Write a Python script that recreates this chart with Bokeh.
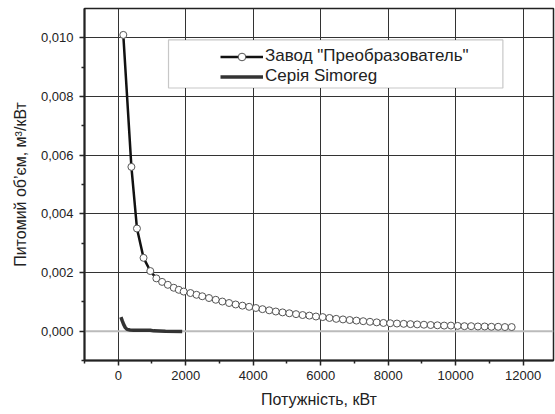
from bokeh.plotting import figure
from bokeh.models import (Range1d, FixedTicker, CustomJSTickFormatter, Legend,
                          LegendItem, Span, BoxAnnotation)
from bokeh.embed import file_html
from bokeh.resources import INLINE

# ---- data ----
x_plant = [150, 390, 555, 750, 950, 1130, 1300, 1470, 1645, 1795, 1940, 2140,
           2320, 2490, 2690, 2890, 3085, 3285, 3480, 3680, 3880, 4080, 4275,
           4475, 4670, 4870, 5070, 5270, 5465, 5665, 5860, 6060, 6260, 6460,
           6660, 6860, 7060, 7260, 7460, 7660, 7860, 8060, 8260, 8460, 8660,
           8860, 9060, 9260, 9460, 9660, 9860, 10060, 10260, 10460, 10660,
           10860, 11060, 11260, 11460, 11660]
y_plant = [0.0101, 0.0056, 0.0035, 0.0025, 0.00205, 0.0018, 0.00168, 0.00158,
           0.00148, 0.00141, 0.00135, 0.00130, 0.00124, 0.00119, 0.00113,
           0.00107, 0.00101, 0.00096, 0.00091, 0.00087, 0.00083, 0.00079,
           0.00075, 0.00071, 0.00067, 0.00064, 0.00061, 0.00058, 0.00055,
           0.00053, 0.00050, 0.00048, 0.00045, 0.00042, 0.00040, 0.00038,
           0.00036, 0.00034, 0.00032, 0.00030, 0.00028, 0.00027, 0.00026,
           0.00025, 0.00024, 0.00023, 0.00022, 0.00021, 0.00020, 0.00019,
           0.00019, 0.00018, 0.00017, 0.00017, 0.00016, 0.00016, 0.00015,
           0.00015, 0.00014, 0.00014]

x_simoreg = [80, 120, 160, 210, 260, 350, 455, 700, 950, 1050, 1400, 1895]
y_simoreg = [0.00048, 0.00035, 0.00023, 0.00012, 0.00006, 0.00004, 0.00003,
             0.00003, 0.00003, 0.00001, 0.0, -0.00001]

x_major = [0, 2000, 4000, 6000, 8000, 10000, 12000]
x_minor = [-1000, 1000, 3000, 5000, 7000, 9000, 11000]
y_major = [0.0, 0.002, 0.004, 0.006, 0.008, 0.010]
y_minor = [-0.001, 0.001, 0.003, 0.005, 0.007, 0.009]
y_grid = [0.002, 0.004, 0.006, 0.008, 0.010]

label_plant = 'Завод "Преобразователь"'
label_simoreg = "Серія Simoreg"
x_title = "Потужність, кВт"
y_title = "Питомий об’єм, м³/кВт"

FONT = "Liberation Sans"

p = figure(width=555, height=414, output_backend="svg", toolbar_location=None,
           x_range=Range1d(-1000, 12900), y_range=Range1d(-0.001, 0.011),
           min_border_left=84, min_border_right=2, min_border_top=8,
           min_border_bottom=54)
p.background_fill_color = "white"
p.border_fill_color = "white"
p.outline_line_color = "#222222"
p.outline_line_width = 1.5

# axes
p.xaxis.ticker = FixedTicker(ticks=x_major, minor_ticks=x_minor)
p.yaxis.ticker = FixedTicker(ticks=y_major, minor_ticks=y_minor)
p.yaxis.formatter = CustomJSTickFormatter(code="return tick.toFixed(3).replace('.', ',');")
for ax in (p.xaxis, p.yaxis):
    ax.axis_line_width = 2
    ax.axis_line_color = "#222222"
    ax.major_tick_out = 5
    ax.major_tick_in = 0
    ax.minor_tick_out = 3
    ax.minor_tick_in = 0
    ax.major_tick_line_width = 1.5
    ax.minor_tick_line_width = 1.5
    ax.major_tick_line_color = "#222222"
    ax.minor_tick_line_color = "#222222"
    ax.major_label_text_font = FONT
    ax.major_label_text_font_size = "13px"
    ax.major_label_text_color = "#222222"
    ax.axis_label_text_font = FONT
    ax.axis_label_text_font_size = "16px"
    ax.axis_label_text_font_style = "normal"
    ax.axis_label_text_color = "#222222"
p.xaxis.major_label_standoff = 5
p.yaxis.major_label_standoff = 6
p.xaxis.axis_label = x_title
p.yaxis.axis_label = y_title
p.xaxis.axis_label_standoff = 8
p.yaxis.axis_label_standoff = 9

# grid
p.xgrid.ticker = FixedTicker(ticks=x_major)
p.ygrid.ticker = FixedTicker(ticks=y_grid)
p.xgrid.grid_line_color = "#333333"
p.ygrid.grid_line_color = "#333333"
p.xgrid.grid_line_width = 1
p.ygrid.grid_line_width = 1
p.add_layout(Span(location=0, dimension="width", line_color="#bbbbbb",
                  line_width=2, level="underlay"))

# series
l1 = p.line(x_plant, y_plant, line_color="#111111", line_width=2.5)
c1 = p.scatter(x_plant, y_plant, marker="circle", size=7, fill_color="white",
               line_color="#555555", line_width=1)
l2 = p.line(x_simoreg, y_simoreg, line_color="#333333", line_width=3.5)

# legend box and legend
p.add_layout(BoxAnnotation(left=1490, right=11400, top=0.00993, bottom=0.00829,
                           fill_color="white", fill_alpha=1.0,
                           line_color="#444444", line_width=1.2))
legend = Legend(items=[LegendItem(label=label_plant, renderers=[l1, c1]),
                       LegendItem(label=label_simoreg, renderers=[l2])],
                location=(136, 274), border_line_alpha=0,
                background_fill_alpha=0, padding=0, margin=0, spacing=0,
                glyph_width=43, glyph_height=19, label_height=19,
                label_standoff=2, label_text_font=FONT,
                label_text_font_size="17px", label_text_color="#222222")
p.add_layout(legend)

open("out.html", "w").write(file_html(p, INLINE))
